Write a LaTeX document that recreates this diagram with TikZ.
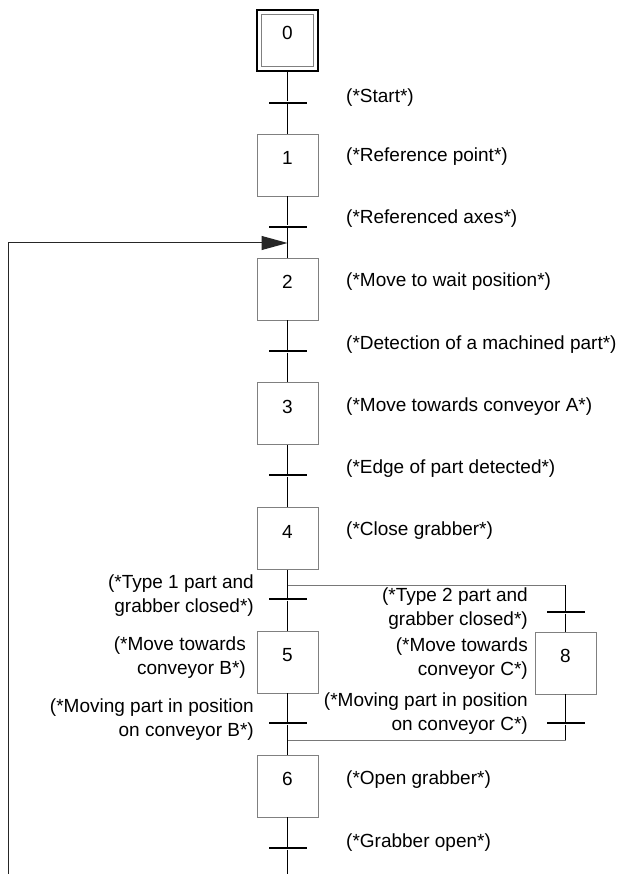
\documentclass[tikz,border=0pt]{standalone}
\usepackage{fontspec}
\setmainfont{Liberation Sans}
\usetikzlibrary{arrows.meta}
\definecolor{boxgray}{RGB}{128,128,128}
\definecolor{linegray}{RGB}{120,120,120}
\begin{document}
\begin{tikzpicture}[x=1pt,y=-1pt,
  every node/.style={font=\fontsize{19}{24}\selectfont},
  stepbox/.style={draw=boxgray,line width=0.9pt,minimum width=61pt,minimum height=62pt,inner sep=0pt,text height=13pt,text depth=14pt,fill=white},
  initbox/.style={draw=black,line width=2.8pt,minimum width=61pt,minimum height=61pt,inner sep=0pt,text height=13pt,text depth=14pt,
     append after command={\pgfextra{\draw[boxgray,line width=0.9pt] ([shift={(6pt,-6pt)}]\tikzlastnode.north west) rectangle ([shift={(-6pt,6pt)}]\tikzlastnode.south east);}}},
  trans/.style={fill=black,minimum width=38pt,minimum height=2.6pt,inner sep=0pt},
  link/.style={draw=black,line width=0.8pt},
  blink/.style={draw=linegray,line width=0.9pt},
  rlab/.style={anchor=west,inner sep=0pt},
  llab/.style={anchor=east,align=right,inner sep=0pt},
]
\useasboundingbox (0,0) rectangle (621,874);
% steps
\node[initbox] (s0) at (287.5,40.5) {0};
\node[stepbox] (s1) at (287.5,165) {1};
\node[stepbox] (s2) at (287.5,289) {2};
\node[stepbox] (s3) at (287.5,413.5) {3};
\node[stepbox] (s4) at (287.5,538.5) {4};
\node[stepbox] (s5) at (287.5,662) {5};
\node[stepbox] (s6) at (287.5,786) {6};
\node[stepbox] (s8) at (565.5,663) {8};
% transitions
\node[trans] (t0) at (287.5,103) {};
\node[trans] (t1) at (287.5,227) {};
\node[trans] (t2) at (287.5,351) {};
\node[trans] (t3) at (287.5,475) {};
\node[trans] (t4) at (287.5,599) {};
\node[trans] (t8a) at (565.5,612) {};
\node[trans] (t5) at (287.5,723) {};
\node[trans] (t8b) at (565.5,723) {};
\node[trans] (t6) at (287.5,848) {};
% coordinates
\coordinate (jin) at (287.5,243);
\coordinate (lc) at (8,243);
\coordinate (lb) at (8,874);
\coordinate (div) at (287.5,585);
\coordinate (divr) at (565.5,585);
\coordinate (cnv) at (287.5,740);
\coordinate (cnvr) at (565.5,740);
\coordinate (mb) at (287.5,874);
% main links
\draw[link] (s0) -- (t0) -- (s1);
\draw[link] (s1) -- (t1) -- (s2);
\draw[link] (s2) -- (t2) -- (s3);
\draw[link] (s3) -- (t3) -- (s4);
\draw[link] (s4) -- (t4) -- (s5);
\draw[link] (s5) -- (t5) -- (s6);
\draw[link] (s6) -- (t6) -- (mb);
% branch
\draw[blink] (div) -- (divr);
\draw[link] (divr) -- (t8a) -- (s8) -- (t8b) -- (cnvr);
\draw[blink] (cnvr) -- (cnv);
% loop
\draw[draw=black!85,line width=1pt] (lb) -- (lc) -- ([xshift=-25pt]jin);
\draw[draw=black!85,line width=1pt,-{Triangle[length=26pt,width=14pt]}] ([xshift=-26pt]jin) -- (jin);
% right labels
\node[rlab] (l0) at (346,98) {(*Start*)};
\node[rlab] (l1) at (346,157) {(*Reference point*)};
\node[rlab] (l2) at (346,219) {(*Referenced axes*)};
\node[rlab] (l3) at (346,282) {(*Move to wait position*)};
\node[rlab] (l4) at (346,345) {(*Detection of a machined part*)};
\node[rlab] (l5) at (346,407) {(*Move towards conveyor A*)};
\node[rlab] (l6) at (346,469) {(*Edge of part detected*)};
\node[rlab] (l7) at (346,531) {(*Close grabber*)};
\node[rlab] (l8) at (346,780) {(*Open grabber*)};
\node[rlab] (l9) at (346,843) {(*Grabber open*)};
% left labels
\node[llab] (l10) at (254,596) {(*Type 1 part and\\grabber closed*)};
\node[llab] (l11) at (246,658) {(*Move towards\\conveyor B*)};
\node[llab] (l12) at (254,720) {(*Moving part in position\\on conveyor B*)};
\node[llab] (l13) at (528,609) {(*Type 2 part and\\grabber closed*)};
\node[llab] (l14) at (528,659) {(*Move towards\\conveyor C*)};
\node[llab] (l15) at (528,714) {(*Moving part in position\\on conveyor C*)};
\end{tikzpicture}
\end{document}
